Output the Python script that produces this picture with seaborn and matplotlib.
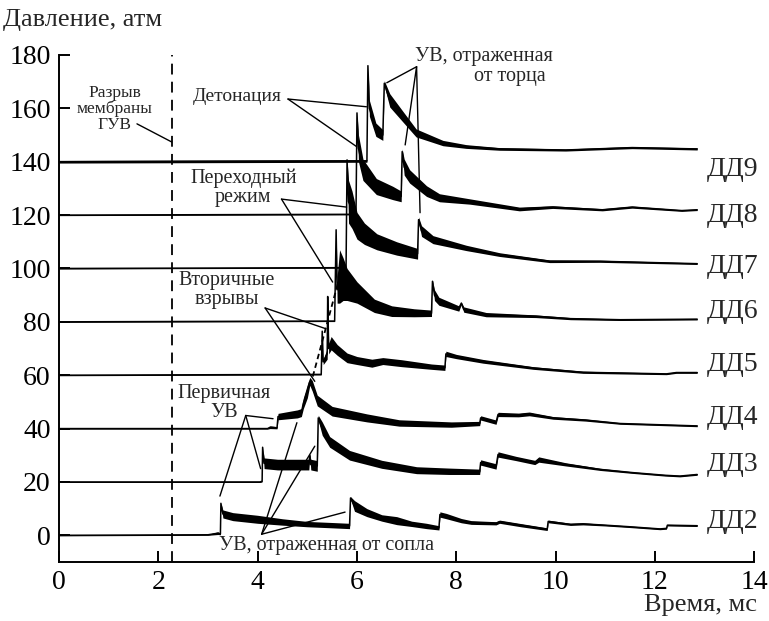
import numpy as np
import pandas as pd
import matplotlib
matplotlib.use("Agg")
import matplotlib.pyplot as plt
import seaborn as sns

# ---------------- data ----------------
# time, ms / pressure, atm / half-width of the noisy band, atm
dd2_t = [0, 3.0, 3.2, 3.25, 3.26, 3.3, 3.5, 4.0, 4.5, 5.0, 5.5, 5.85, 5.87, 5.95, 6.2, 6.5, 6.8, 7.1, 7.4,
         7.65, 7.67, 7.8, 8.1, 8.3, 8.8, 8.87, 9.3, 9.83, 9.85, 10.3, 10.55, 11.0, 11.5, 12.1, 12.23, 12.25, 12.85]
dd2_p = [0, 0.2, 0.8, 0.5, 12, 8, 7, 6, 5, 4.2, 3.8, 3.5, 14, 11, 8.5, 6.5, 5.5, 4.3, 3.5,
         2.8, 7.8, 7.2, 5.5, 4.8, 4.5, 5.1, 3.8, 2.3, 5.2, 4.1, 4.3, 3.8, 3.2, 2.4, 2.6, 3.8, 3.6]
dd2_w = [0.2, 0.2, 0.5, 0.3, 0, 1.5, 1.5, 1.5, 1.2, 1.0, 1.0, 1.0, 0.5, 2, 1.5, 1.2, 1.5, 1.0, 1.0,
         0.8, 1.0, 1.0, 0.8, 0.7, 0.6, 0.6, 0.6, 0.5, 0.5, 0.4, 0.4, 0.3, 0.3, 0.3, 0.3, 0.3, 0.3]

dd3_t = [0, 4.05, 4.09, 4.1, 4.13, 4.4, 4.8, 5.03, 5.05, 5.07, 5.2, 5.22, 5.3, 5.45, 5.85, 6.5, 7.2, 7.85,
         8.47, 8.49, 8.8, 8.84, 9.2, 9.58, 9.66, 10.2, 10.9, 11.55, 12.2, 12.5, 12.85]
dd3_p = [20, 20, 20.3, 33, 27, 26.5, 26.5, 26.5, 30, 26.5, 26, 44, 40, 35, 30, 26.6, 24.4, 24,
         23.8, 27.3, 25.8, 30.3, 28.8, 27.3, 28.4, 26.6, 24.7, 23.5, 22.5, 22.2, 22.8]
dd3_w = [0.2, 0.2, 0.3, 0, 2, 2, 2, 2, 0.5, 2, 2, 1, 2.5, 2, 1.8, 1.5, 1.3, 1.2,
         1.0, 1.0, 1.0, 1.0, 0.8, 0.8, 1.0, 0.6, 0.4, 0.3, 0.3, 0.3, 0.3]

dd4_t = [0, 4.2, 4.25, 4.39, 4.41, 4.8, 4.88, 4.92, 5.0, 5.05, 5.1, 5.2, 5.5, 6.2, 6.85, 7.9,
         8.47, 8.49, 8.8, 8.84, 9.25, 9.47, 9.95, 10.6, 11.3, 12.85]
dd4_p = [40, 40, 40.5, 40.3, 44.5, 45.5, 46, 49.5, 54, 57.7, 56, 50.5, 46.5, 44, 42.1, 41.5,
         41.9, 44, 42.4, 45.3, 45.1, 45.5, 44, 43.2, 41.9, 41]
dd4_w = [0.2, 0.2, 0.5, 0.4, 1.2, 1.5, 1.5, 2, 2.5, 1.5, 2, 2, 1.8, 1.5, 1.2, 1.0,
         0.8, 0.8, 0.8, 0.8, 0.7, 0.7, 0.5, 0.4, 0.3, 0.3]

dd5_t = [0, 5.28, 5.30, 5.32, 5.40, 5.41, 5.43, 5.48, 5.6, 5.8, 6.0, 6.3, 6.52, 6.9, 7.5, 7.77, 7.79,
         8.0, 8.54, 9.55, 10.55, 12.23, 12.43, 12.85]
dd5_p = [60, 60.3, 76.5, 65, 68, 89.5, 70, 72, 69.5, 66.5, 65.5, 64.5, 65.3, 64.5, 63.2, 62.8, 68,
         67, 65.2, 62.7, 61.1, 60.5, 61, 61]
dd5_w = [0.2, 0.2, 0, 1, 2, 0, 2, 2.5, 2, 1.8, 1.5, 1.5, 1.3, 1.3, 1.0, 1.0, 1.0,
         0.8, 0.7, 0.5, 0.4, 0.3, 0.3, 0.3]

dd6_t = [0, 5.55, 5.58, 5.6, 5.65, 5.72, 5.8, 6.0, 6.35, 6.7, 7.15, 7.5, 7.52, 7.56, 7.65, 8.05, 8.1,
         8.15, 8.6, 9.6, 10.3, 11.3, 12.85]
dd6_p = [80, 80.3, 114.5, 92, 97, 96, 94, 91, 86, 84, 83.4, 83.2, 95.2, 90, 87.7, 85, 87,
         84.6, 82.7, 82.1, 81.2, 80.8, 81]
dd6_w = [0.2, 0.2, 0, 5, 10, 8, 6, 4, 2.5, 2, 1.5, 1.2, 0.5, 2, 1.5, 1.0, 0.5,
         1.0, 0.8, 0.5, 0.4, 0.3, 0.3]

dd7_t = [0, 5.78, 5.8, 5.83, 5.9, 6.0, 6.15, 6.4, 6.8, 7.22, 7.24, 7.3, 7.53, 8.2, 8.87, 9.88, 10.9, 12.85]
dd7_p = [100, 100.3, 140.7, 125, 122, 116, 113, 110, 107.5, 105.5, 118.3, 114, 110.8, 107.7, 105.2,
         102.7, 102.7, 101.8]
dd7_w = [0.2, 0.2, 0, 8, 7, 5, 4, 3, 2.5, 2, 1, 2, 1.5, 1.0, 0.7, 0.5, 0.4, 0.3]

dd8_t = [0, 5.98, 6.0, 6.03, 6.12, 6.39, 6.72, 6.89, 6.91, 6.95, 7.06, 7.4, 7.66, 8.27, 9.27, 9.94,
         10.94, 11.54, 12.54, 12.85]
dd8_p = [120, 120.3, 158.3, 145, 137, 130.7, 128.3, 127, 143.8, 138, 134.5, 129, 126.5, 125.1, 122.3,
         123, 122, 123, 121.7, 122]
dd8_w = [0.2, 0.2, 0, 5, 4, 3, 2.5, 2, 1, 3, 2.5, 2, 1.5, 1.0, 0.7, 0.5, 0.4, 0.4, 0.3, 0.3]

dd9_t = [0, 6.2, 6.22, 6.25, 6.38, 6.52, 6.55, 6.66, 6.92, 7.19, 7.73, 8.2, 8.87, 10.2, 11.54, 12.85]
dd9_p = [140, 140.3, 176, 160, 152, 150, 169.4, 163, 157, 150.8, 147, 145.7, 144.8, 144.4, 145.3, 144.8]
dd9_w = [0.5, 0.5, 0, 3, 2.5, 2, 1, 2.5, 2, 1.5, 1.0, 0.7, 0.5, 0.4, 0.4, 0.4]

sensors = ["ДД2", "ДД3", "ДД4", "ДД5", "ДД6", "ДД7", "ДД8", "ДД9"]
label_p = [5.2, 26.6, 44.2, 64, 83.8, 100.7, 120, 137]
traces = [(dd2_t, dd2_p, dd2_w), (dd3_t, dd3_p, dd3_w), (dd4_t, dd4_p, dd4_w), (dd5_t, dd5_p, dd5_w),
          (dd6_t, dd6_p, dd6_w), (dd7_t, dd7_p, dd7_w), (dd8_t, dd8_p, dd8_w), (dd9_t, dd9_p, dd9_w)]

membrane_t = 2.27
front_t = [5.11, 5.70]
front_p = [59.5, 100.3]

x_ticks = [0, 2, 4, 6, 8, 10, 12, 14]
y_ticks = [0, 20, 40, 60, 80, 100, 120, 140, 160, 180]

# annotations: text lines (t, p) and pointer (start, [ends])
notes = [
    ("Разрыв\nмембраны\nГУВ", 1.12, 159.8, 12.5, (1.57, 154.2), [(2.27, 147.4)]),
    ("Детонация", 3.59, 164.3, 14, (4.61, 163.5), [(6.19, 160.6), (5.99, 145.7)]),
    ("Переходный\nрежим", 3.71, 130.3, 14.5, (4.48, 126.0), [(5.79, 123.0), (5.51, 94.9)]),
    ("Вторичные\nвзрывы", 3.38, 92.0, 14.5, (4.15, 85.2), [(5.36, 77.5), (5.15, 57.7)]),
    ("Первичная\nУВ", 3.32, 49.5, 14.5, (3.76, 44.9), [(4.31, 43.7), (4.06, 25.0), (3.24, 14.7)]),
    ("УВ, отраженная от сопла", 5.38, -4.0, 14.5, (4.08, 0.4), [(4.79, 42.2), (5.15, 33.4), (5.76, 8.7)]),
]
torets_lines = [("УВ, отраженная", 8.56, 179.4), ("от торца", 9.08, 171.9)]
torets_ptr = ((7.20, 175.6), [(6.60, 169.6), (6.97, 146.3), (7.27, 120.9)])

# ---------------- plotting ----------------
sns.set_theme(style="ticks")
plt.rcParams["font.family"] = ["Liberation Serif", "DejaVu Serif"]
plt.rcParams["axes.linewidth"] = 1.4

fig = plt.figure(figsize=(7.69, 6.21), dpi=100)
ax = fig.add_axes([59 / 769, 1 - 562 / 621, (754.3 - 59) / 769, (562 - 55) / 621])

rows = []
for name, (t, p, w) in zip(sensors, traces):
    for ti, pi in zip(t, p):
        rows.append({"t": ti, "p": pi, "sensor": name})
df = pd.DataFrame(rows)

sns.lineplot(data=df, x="t", y="p", units="sensor", estimator=None, color="black",
             linewidth=1.1, ax=ax, legend=False, sort=False)
for t, p, w in traces:
    t = np.asarray(t, float); p = np.asarray(p, float); w = np.asarray(w, float)
    ax.fill_between(t, p - w, p + w, color="black", linewidth=0)

ax.plot([membrane_t, membrane_t], [-10, 180], color="black", lw=1.3, ls=(0, (6, 4)))
ax.plot(front_t, front_p, color="black", lw=1.3, ls=(0, (3, 2)))

for name, lp in zip(sensors, label_p):
    ax.text(13.05, lp, name, fontsize=20, va="center", ha="left", clip_on=False)

for txt, tx, ty, fs, start, ends in notes:
    ax.text(tx, ty, txt, fontsize=fs, ha="center", va="center", linespacing=1.0)
    for e in ends:
        ax.plot([start[0], e[0]], [start[1], e[1]], color="black", lw=1.0)
for txt, tx, ty in torets_lines:
    ax.text(tx, ty, txt, fontsize=14.5, ha="center", va="center")
for e in torets_ptr[1]:
    ax.plot([torets_ptr[0][0], e[0]], [torets_ptr[0][1], e[1]], color="black", lw=1.0)

ax.set_xlim(0, 14)
ax.set_ylim(-10, 180)
ax.set_xticks(x_ticks)
ax.set_yticks(y_ticks)
ax.tick_params(direction="in", length=8, width=1.4, labelsize=20, colors="black", pad=6)
ax.set_xlabel("")
ax.set_ylabel("")
sns.despine(ax=ax)
ax.spines["left"].set_color("black")
ax.spines["bottom"].set_color("black")

fig.text(3 / 769, 1 - 20 / 621, "Давление, атм", fontsize=19, ha="left", va="center")
fig.text(757 / 769, 1 - 605 / 621, "Время, мс", fontsize=19, ha="right", va="center")

fig.savefig("out.png", dpi=100)
